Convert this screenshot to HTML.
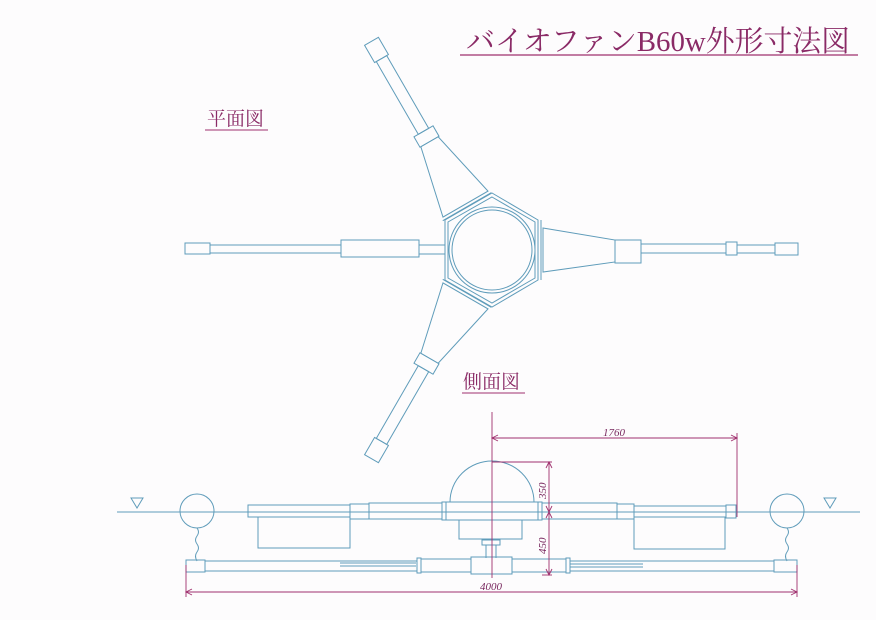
<!DOCTYPE html>
<html><head><meta charset="utf-8"><style>
html,body{margin:0;padding:0;background:#fdfcfd;}
svg{display:block}
.t{font-family:"Liberation Serif","Noto Serif CJK SC",serif;fill:#8a2a66}
</style></head><body>
<svg width="876" height="620" viewBox="0 0 876 620" xmlns="http://www.w3.org/2000/svg">
<rect width="876" height="620" fill="#fdfcfd"/>
<!-- titles -->
<text x="466" y="51" class="t" font-size="29" textLength="384" lengthAdjust="spacingAndGlyphs">バイオファンB60w外形寸法図</text>
<line x1="460" y1="55" x2="858" y2="55" stroke="#a0306e" stroke-width="1.2"/>
<text x="207" y="125" class="t" font-size="19">平面図</text>
<line x1="205" y1="130" x2="268" y2="130" stroke="#a0306e" stroke-width="1"/>
<text x="463" y="388" class="t" font-size="19">側面図</text>
<line x1="462" y1="393" x2="525" y2="393" stroke="#a0306e" stroke-width="1"/>

<g fill="none" stroke="#5f9cba" stroke-width="1">
<!-- hub -->
<circle cx="492" cy="250" r="43"/>
<circle cx="492" cy="250" r="40"/>
<polygon points="492,193 538,220 538,280 492,307 445,280 445,220"/>
<polygon points="492,197 535,222 535,278 492,303 448,278 448,222"/>
<!-- right arm -->
<line x1="541" y1="220" x2="541" y2="280"/>
<polygon points="543,228 615,240 615,262 543,272"/>
<rect x="615" y="240" width="26" height="23"/>
<rect x="641" y="244" width="85" height="9"/>
<rect x="726" y="242" width="11" height="13"/>
<rect x="737" y="245" width="38" height="8"/>
<rect x="775" y="243" width="23" height="12"/>
<!-- left arm -->
<rect x="185" y="243" width="25" height="11"/>
<rect x="210" y="245" width="131" height="8"/>
<rect x="341" y="240" width="78" height="17"/>
<rect x="419" y="245" width="26" height="9"/>
<!-- upper-left arm (rotated) -->
<g transform="translate(492,250) rotate(-120)">
<line x1="50" y1="-28" x2="50" y2="28"/>
<polygon points="53,-26 125,-10 125,10 53,26"/>
<rect x="125" y="-11" width="12" height="22"/>
<rect x="137" y="-6" width="84" height="12"/>
<rect x="221" y="-8" width="20" height="16"/>
</g>
<g transform="translate(492,250) rotate(120)">
<line x1="50" y1="-28" x2="50" y2="28"/>
<polygon points="53,-26 125,-10 125,10 53,26"/>
<rect x="125" y="-11" width="12" height="22"/>
<rect x="137" y="-6" width="84" height="12"/>
<rect x="221" y="-8" width="20" height="16"/>
</g>

<!-- side view -->
<line x1="117" y1="512" x2="860" y2="512"/>
<polygon points="131,498 143,498 137,508"/>
<polygon points="824,498 836,498 830,508"/>
<path d="M450,502 A42,41 0 0 1 534,502"/>
<rect x="442" y="502" width="100" height="18"/>
<line x1="446" y1="502" x2="446" y2="520"/><line x1="538" y1="502" x2="538" y2="520"/>
<rect x="459" y="520" width="63" height="19"/>
<rect x="482" y="540" width="18" height="5"/>
<line x1="486" y1="545" x2="486" y2="558"/><line x1="496" y1="545" x2="496" y2="558"/>
<!-- left float -->
<rect x="248" y="505" width="102" height="12"/>
<rect x="258" y="517" width="92" height="31"/>
<rect x="350" y="504" width="19" height="15"/>
<rect x="369" y="503" width="73" height="16"/>
<!-- right float -->
<rect x="542" y="503" width="75" height="16"/>
<rect x="617" y="504" width="17" height="15"/>
<rect x="634" y="506" width="92" height="11"/>
<rect x="634" y="517" width="91" height="32"/>
<rect x="726" y="505" width="10" height="13"/>
<!-- balls -->
<ellipse cx="197" cy="511" rx="17" ry="17"/>
<ellipse cx="787" cy="511" rx="17" ry="17"/>
<path d="M197,528 q3,4 0,8 q-3,4 0,8 q3,4 0,8 q-3,4 0,9"/>
<path d="M787,528 q3,4 0,8 q-3,4 0,8 q3,4 0,8 q-3,4 0,9"/>
<!-- bottom tube -->
<rect x="186" y="560" width="19" height="12"/>
<rect x="205" y="561" width="212" height="10"/>
<rect x="417" y="558" width="4" height="15"/>
<rect x="421" y="559" width="50" height="13"/>
<rect x="471" y="557" width="41" height="17"/>
<rect x="512" y="559" width="54" height="13"/>
<rect x="566" y="558" width="4" height="15"/>
<rect x="570" y="561" width="204" height="10"/>
<rect x="774" y="560" width="23" height="12"/>
<line x1="340" y1="563" x2="416" y2="563"/><line x1="340" y1="566" x2="416" y2="566"/>
<line x1="570" y1="564" x2="643" y2="564"/><line x1="570" y1="567" x2="643" y2="567"/>
</g>

<!-- dimensions -->
<g stroke="#a0306e" stroke-width="0.9" fill="none">
<line x1="492" y1="412" x2="492" y2="578"/>
<line x1="492" y1="438" x2="737" y2="438"/>
<path d="M498,435 L492,438 L498,441 M731,435 L737,438 L731,441"/>
<line x1="737" y1="433" x2="737" y2="517"/>
<line x1="492" y1="462" x2="552" y2="462"/>
<line x1="549" y1="462" x2="549" y2="575"/>
<line x1="542" y1="575" x2="552" y2="575"/>
<path d="M546,468 L549,462 L552,468 M546,506 L549,512 L552,506 M546,518 L549,512 L552,518 M546,569 L549,575 L552,569"/>
<line x1="186" y1="592" x2="797" y2="592"/>
<line x1="186" y1="565" x2="186" y2="597"/>
<line x1="797" y1="565" x2="797" y2="597"/>
<path d="M192,589 L186,592 L192,595 M791,589 L797,592 L791,595"/>
</g>
<g font-family="Liberation Serif,serif" font-style="italic" font-size="11" fill="#7a2a60">
<text x="603" y="436">1760</text>
<text x="480" y="590">4000</text>
<text transform="translate(546,499) rotate(-90)">350</text>
<text transform="translate(546,554) rotate(-90)">450</text>
</g>
</svg>
</body></html>
